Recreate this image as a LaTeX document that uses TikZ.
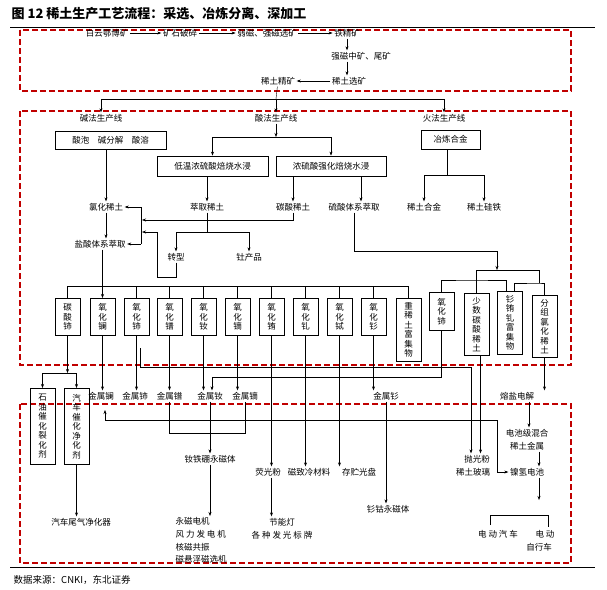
\documentclass[tikz,border=0pt]{standalone}
\usepackage{fontspec}
\setmainfont{Noto Sans CJK SC}
\usetikzlibrary{arrows.meta}
\definecolor{redline}{RGB}{192,0,0}
\tikzset{
  ar/.style={-{Stealth[length=4pt,width=3pt]}, line width=0.5pt},
  arb/.style={{Stealth[length=4pt,width=3pt]}-{Stealth[length=4pt,width=3pt]}, line width=0.5pt},
  bx/.style={draw, line width=0.8pt, inner sep=2pt},
  vb/.style={draw, line width=0.8pt, minimum width=25pt, anchor=north, align=center, inner sep=1pt},
  zone/.style={draw=redline, line width=1.6pt, dash pattern=on 6pt off 3pt}
}
\begin{document}
\begin{tikzpicture}[x=1pt,y=-1pt,every node/.style={font=\fontsize{8.5}{9.5}\selectfont, inner sep=1.5pt}]
\useasboundingbox (0,0) rectangle (607,589);
% title, rules, source
\node[anchor=west, font=\fontsize{13}{14}\bfseries] (title) at (10,14) {图 12 稀土生产工艺流程：采选、冶炼分离、深加工};
\draw[line width=0.8pt] (10,27) -- (595,27);
\draw[line width=0.8pt] (10,567) -- (595,567);
\node[anchor=west, font=\fontsize{9.5}{10}\selectfont] (src) at (12,580) {数据来源：CNKI，东北证券};
\draw[zone] (20,30) rectangle (571,91);
\draw[zone] (20,111) rectangle (571,365);
\draw[zone] (20,404) rectangle (571,563);

% mining
\node (bym) at (107,33) {白云鄂博矿};
\node (kspc) at (180,33) {矿石破碎};
\node (rcxk) at (267,33) {弱磁、强磁选矿};
\node (tjk) at (347,33) {铁精矿};
\draw[ar] (bym) -- (kspc);
\draw[ar] (kspc) -- (rcxk);
\draw[ar] (rcxk) -- (tjk);
\node (qczk) at (361,56) {强磁中矿、尾矿};
\node (xtxk) at (349,81) {稀土选矿};
\node (xtjk) at (278,81) {稀土精矿};
\draw[ar] (tjk.south) -- (tjk.south|-qczk.north);
\draw[ar] (tjk.south|-qczk.south) -- (tjk.south|-xtxk.north);
\draw[ar] (xtxk) -- (xtjk);

% three lines
\node (jf) at (101,118) {碱法生产线};
\node (sf) at (276,118) {酸法生产线};
\node (hf) at (444,118) {火法生产线};
\coordinate (fen) at (276,99);
\draw (xtjk) -- (fen);
\draw[ar] (fen) -| (jf);
\draw[ar] (fen) -- (sf);
\draw[ar] (fen) -| (hf);

\node[bx, minimum width=111pt, minimum height=18pt] (jbox) at (110.5,140) {酸泡\quad 碱分解\quad 酸溶};
\node[bx, minimum width=111pt, minimum height=20pt] (dw) at (212.5,166) {低温浓硫酸焙烧水浸};
\node[bx, minimum width=110pt, minimum height=20pt] (nl) at (331,166) {浓硫酸强化焙烧水浸};
\node[bx, minimum width=59pt, minimum height=19pt] (yl) at (450.5,139.5) {冶炼合金};
\coordinate (sfen) at (276,137);
\draw[ar] (sf) -- (sfen);
\draw[ar] (sfen) -| (dw);
\draw[ar] (sfen) -| (nl);

\node (lhxt) at (106,207) {氯化稀土};
\node (cqxt) at (207,207) {萃取稀土};
\node (tsxt) at (293,207) {碳酸稀土};
\node (lstx) at (354,207) {硫酸体系萃取};
\node (xthj) at (424,207) {稀土合金};
\node (xtgt) at (484,207) {稀土硅铁};
\draw[ar] (jbox.south-|lhxt) -- (lhxt);
\draw[ar] (dw.south-|cqxt) -- (cqxt);
\draw[ar] (nl.south-|tsxt) -- (tsxt);
\draw[ar] ([xshift=7pt]nl.south-|lstx) -- ([xshift=7pt]lstx.north);
\coordinate (hfen) at (447,175);
\draw (yl.south-|hfen) -- (hfen);
\draw[ar] (hfen) -| (xthj);
\draw[ar] (hfen) -| (xtgt);

\node (yssx) at (100,244) {盐酸体系萃取};
\draw[ar] (lhxt) -- (lhxt|-yssx.north);
\coordinate (k1) at (141,207);
\coordinate (k2) at (141,244);
\coordinate (k3) at (142,220);
\coordinate (k4) at (142,232);
\draw[ar] (k1) -- (lhxt.east);
\draw (k1) -- (k2);
\draw[ar] (k2) -- (yssx.east);
\draw[ar] (tsxt) |- (k3);

\node (zx) at (176,257) {转型};
\node (tcp) at (249,257) {钍产品};
\coordinate (cfen) at (207,232);
\draw (cqxt) -- (cfen);
\draw[ar] (cfen) -| (zx);
\draw[ar] (cfen) -| (tcp);
\coordinate (zb) at (157,277);
\draw[ar] (zx) |- (zb) |- (k4);

% separated oxides
\coordinate (tp) at (0,286);
\foreach \x/\t [count=\i] in {55/碳\\酸\\铈, 90/氧\\化\\镧, 124/氧\\化\\铈, 157/氧\\化\\镨,
  191/氧\\化\\钕, 225/氧\\化\\镝, 259/氧\\化\\铕, 293/氧\\化\\钆, 327/氧\\化\\铽, 361/氧\\化\\钐}
  \node[vb, minimum height=37pt] (b\i) at (\x+12.5,298) {\t};
\node[vb, minimum height=63pt] (b11) at (408.5,298) {重\\稀\\土\\富\\集\\物};
\draw (b1.north|-tp) -- (b11.north|-tp);
\foreach \i in {1,3,4,...,11}
  \draw (b\i.north|-tp) -- (b\i.north);
\draw[ar] (yssx.south-|b2) -- (b2);

\node[vb, minimum height=38pt] (r1) at (441.5,292) {氧\\化\\铈};
\node[vb, minimum height=62pt] (r2) at (476.5,293) {少\\数\\碳\\酸\\稀\\土};
\node[vb, minimum height=63pt] (r3) at (510,291) {钐\\铕\\钆\\富\\集\\物};
\node[vb, minimum height=62pt] (r4) at (544.5,295) {分\\组\\氯\\化\\稀\\土};
\coordinate (sa) at (497,251);
\coordinate (sb) at (497,270);
\coordinate (rA) at (539,270);
\coordinate (rB) at (539,283);
\coordinate (rC) at (470,280);
\draw[ar] (lstx) |- (sa) -- (sb);
\draw (r2.north) |- (rA) -- (rB);
\draw ([xshift=4pt]r3.north) |- (rB) -| (r4.north);
\draw (r1.north) |- (rC) -| ([xshift=-4pt]r3.north);

% catalysts
\coordinate (c1) at (67.5,373);
\node[vb, minimum height=76pt] (sy) at (42.5,388) {石\\油\\催\\化\\裂\\化\\剂};
\node[vb, minimum height=76pt] (qcj) at (76.5,388) {汽\\车\\催\\化\\净\\化\\剂};
\draw[ar] (b1) -- (c1);
\draw[ar] (c1) -| (sy);
\draw[ar] (c1) -| (qcj);
\node (wq) at (81,522) {汽车尾气净化器};
\draw[ar] (qcj.south) -- (qcj.south|-wq.north);

% metals
\node (m1) at (101,396) {金属镧};
\node (m2) at (135,396) {金属铈};
\node (m3) at (169.5,396) {金属镨};
\node (m4) at (210,396) {金属钕};
\node (m5) at (245,396) {金属镝};
\node (m6) at (386,396) {金属钐};
\node (rdj) at (517,396) {熔盐电解};
\draw[ar] (b2) -- (b2.south|-m1.north);
\draw[ar] (b3) -- (b3.south|-m2.north);
\draw[ar] (b4) -- (b4.south|-m3.north);
\draw[ar] (b5) -- (b5.south|-m4.north);
\draw[ar] (b6) -- (b6.south|-m5.north);
\draw[ar] (b10) -- (b10.south|-m6.north);
\draw[ar] (r4) -- (r4.south|-rdj.north);
\coordinate (rD) at (212,377);
\draw[ar] (r1.south) |- (rD) -- (rD|-m4.north);

% applications
\node (pgf) at (477,459) {抛光粉};
\node (blg) at (473,472) {稀土玻璃};
\coordinate (s0) at (140,348);
\coordinate (s1) at (471,367);
\draw[ar] (s0) |- (s1) -- (s1|-pgf.north);
\draw[ar] ([xshift=4pt]r2.south) -- ([xshift=4pt]r2.south|-pgf.north);

\node (ygf) at (268,472) {荧光粉};
\node (czl) at (309,472) {磁致冷材料};
\node (czgp) at (359,472) {存贮光盘};
\draw[ar] (b7) -- (b7.south|-ygf.north);
\draw[ar] (b8) -- (b8.south|-czl.north);
\draw[ar] (b9) -- (b9.south|-czgp.north);
\node[align=center, font=\fontsize{8.5}{13}\selectfont] (jnd) at (282,528.5) {节能灯\\各 种 发 光 标 牌};
\draw[ar] (ygf.south-|b7.south) -- (b7.south|-jnd.north);

\node (sgy) at (388,509) {钐钴永磁体};
\draw[ar] (m6) -- (m6|-sgy.north);

\node (ntb) at (210,459) {钕铁硼永磁体};
\coordinate (h2) at (245,433);
\draw (m3.south) |- (h2) -- (m5.south);
\draw[ar] (m4.south) -- (m4.south|-ntb.north);
\node[align=left, anchor=north west, font=\fontsize{8.5}{12.7}\selectfont] (yycj) at (174,516)
  {永磁电机\\风 力 发 电 机\\核磁共振\\磁悬浮磁选机};
\draw[ar] (ntb.south) -- (ntb.south|-yycj.north);

% batteries
\node[align=center, font=\fontsize{8.5}{13}\selectfont] (dcj) at (527,439.5) {电池级混合\\稀土金属};
\node (nqdc) at (527,472) {镍氢电池};
\draw[ar] ([xshift=12pt]rdj.south) -- ([xshift=12pt]rdj.south|-dcj.north);
\draw[ar] ([xshift=12pt]dcj.south) -- ([xshift=12pt]dcj.south|-nqdc.north);
\coordinate (la) at (105,410);
\coordinate (lb) at (497,420);
\draw[arb] (la) |- (lb) |- (nqdc.west);
\coordinate (nqb) at (539,500);
\draw[ar] (nqdc.south-|nqb) -- (nqb);
\coordinate (e0) at (490,515);
\coordinate (e1) at (490,525);
\coordinate (e2) at (548,527);
\draw (e1) -- (e0) -| (e2);
\node (ddqc) at (498,534) {电 动 汽 车};
\node (dd) at (545,534) {电 动};
\node (zxc) at (539,547) {自行车};
\end{tikzpicture}
\end{document}
